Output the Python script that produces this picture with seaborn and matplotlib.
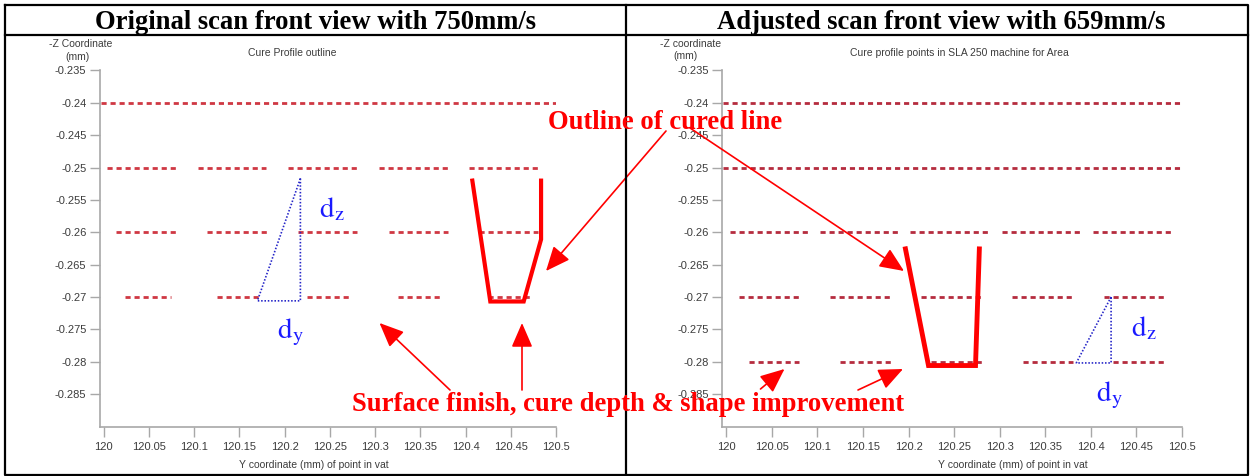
import matplotlib
matplotlib.use("Agg")
import numpy as np
import pandas as pd
import matplotlib.pyplot as plt
import seaborn as sns
from matplotlib.patches import FancyArrowPatch, ArrowStyle

# ---------------- texts ----------------
left_header = "Original scan front view with 750mm/s"
right_header = "Adjusted scan front view with 659mm/s"
left_chart_title = "Cure Profile outline"
right_chart_title = "Cure profile points in SLA 250 machine for Area"
left_ylabel = ["-Z Coordinate", "(mm)"]
right_ylabel = ["-Z coordinate", "(mm)"]
x_label = "Y coordinate (mm) of point in vat"
outline_note = "Outline of cured line"
surface_note = "Surface finish, cure depth & shape improvement"

# ---------------- ticks ----------------
x_ticks = [120.0, 120.05, 120.1, 120.15, 120.2, 120.25, 120.3, 120.35, 120.4, 120.45, 120.5]
x_tick_labels = ["120", "120.05", "120.1", "120.15", "120.2", "120.25",
                 "120.3", "120.35", "120.4", "120.45", "120.5"]
y_ticks = [-0.235, -0.24, -0.245, -0.25, -0.255, -0.26, -0.265, -0.27, -0.275, -0.28, -0.285]
y_tick_labels = ["-0.235", "-0.24", "-0.245", "-0.25", "-0.255", "-0.26",
                 "-0.265", "-0.27", "-0.275", "-0.28", "-0.285"]

# ---------------- cured point runs (z level, start Y, end Y) ----------------
left_z = [-0.24,
          -0.25, -0.25, -0.25, -0.25, -0.25,
          -0.26, -0.26, -0.26, -0.26, -0.26,
          -0.27, -0.27, -0.27, -0.27, -0.27]
left_start = [119.997,
              120.004, 120.104, 120.204, 120.304, 120.404,
              120.014, 120.114, 120.215, 120.315, 120.415,
              120.024, 120.125, 120.225, 120.325, 120.425]
left_end = [120.500,
            120.081, 120.180, 120.281, 120.381, 120.481,
            120.081, 120.181, 120.280, 120.381, 120.480,
            120.074, 120.174, 120.274, 120.374, 120.474]

right_z = [-0.24, -0.25,
           -0.26, -0.26, -0.26, -0.26, -0.26,
           -0.27, -0.27, -0.27, -0.27, -0.27,
           -0.28, -0.28, -0.28, -0.28, -0.28]
right_start = [119.996, 119.996,
               120.004, 120.103, 120.202, 120.302, 120.402,
               120.014, 120.114, 120.214, 120.313, 120.414,
               120.025, 120.125, 120.225, 120.325, 120.424]
right_end = [120.500, 120.500,
             120.090, 120.189, 120.289, 120.389, 120.489,
             120.080, 120.181, 120.280, 120.380, 120.481,
             120.080, 120.181, 120.281, 120.380, 120.480]

# ---------------- cured line outlines ----------------
left_outline_y = [120.4072, 120.4274, 120.4643, 120.4835, 120.4835]
left_outline_z = [-0.2517, -0.2707, -0.2707, -0.2611, -0.2517]
right_outline_y = [120.196, 120.2218, 120.2734, 120.2777]
right_outline_z = [-0.2622, -0.2806, -0.2806, -0.2622]

# ---------------- dz / dy triangles ----------------
left_tri_y = [120.2175, 120.170, 120.2175, 120.2175]
left_tri_z = [-0.2517, -0.2706, -0.2706, -0.2517]
right_tri_y = [120.4222, 120.384, 120.4222, 120.4222]
right_tri_z = [-0.2700, -0.2802, -0.2802, -0.2700]

# ---------------- style ----------------
sns.set_theme(style="ticks")
plt.rcParams["font.family"] = ["Liberation Sans", "DejaVu Sans"]
plt.rcParams["mathtext.fontset"] = "stix"
plt.rcParams["lines.scale_dashes"] = False

W, H = 1252, 476
fig = plt.figure(figsize=(W / 100, H / 100), dpi=100)
fig.patch.set_facecolor("white")

axis_grey = "#a8a8a8"
label_grey = "#3c3c3c"


def runs_frame(z, start, end):
    rows = []
    for i, (zz, s, e) in enumerate(zip(z, start, end)):
        rows.append({"y": s, "z": zz, "run": i})
        rows.append({"y": e, "z": zz, "run": i})
    return pd.DataFrame(rows)


def make_panel(rect, x_lo, z, start, end, color, oy, oz, olw, ty, tz):
    ax = fig.add_axes(rect)
    ax.set_facecolor("white")
    df = runs_frame(z, start, end)
    sns.lineplot(data=df, x="y", y="z", units="run", estimator=None, sort=False,
                 color=color, lw=2.0, ax=ax, legend=False)
    for ln in ax.lines:
        ln.set_linestyle((0, (3.7, 2.8)))
        ln.set_dash_capstyle("butt")
    n0 = len(ax.lines)
    sns.lineplot(x=oy, y=oz, estimator=None, sort=False, color="#ff0000",
                 lw=olw, ax=ax, legend=False)
    for ln in ax.lines[n0:]:
        ln.set_solid_joinstyle("miter")
        ln.set_solid_capstyle("butt")
        ln.set_zorder(4)
    n1 = len(ax.lines)
    sns.lineplot(x=ty, y=tz, estimator=None, sort=False, color="#2626c8",
                 lw=1.2, ax=ax, legend=False)
    for ln in ax.lines[n1:]:
        ln.set_linestyle((0, (1.1, 1.3)))
    ax.set_xlim(x_lo, 120.5)
    ax.set_ylim(-0.2901, -0.235)
    ax.set_xticks(x_ticks)
    ax.set_xticklabels(x_tick_labels)
    ax.set_yticks(y_ticks)
    ax.set_yticklabels(y_tick_labels)
    ax.set_xlabel("")
    ax.set_ylabel("")
    sns.despine(ax=ax)
    for sp in ("left", "bottom"):
        ax.spines[sp].set_color(axis_grey)
        ax.spines[sp].set_linewidth(1.2)
    ax.tick_params(axis="both", direction="out", length=7, width=1.0,
                   color=axis_grey, labelsize=8, labelcolor=label_grey)
    ax.tick_params(axis="y", pad=2.5)
    ax.tick_params(axis="x", pad=4)
    ax.grid(False)
    return ax


ax_l = make_panel([99.6 / W, 1 - 427 / H, (556 - 99.6) / W, (427 - 70.5) / H],
                  119.9956, left_z, left_start, left_end, "#cf3843",
                  left_outline_y, left_outline_z, 3.0, left_tri_y, left_tri_z)
ax_r = make_panel([722 / W, 1 - 427 / H, (1182 - 722) / W, (427 - 70.5) / H],
                  119.9952, right_z, right_start, right_end, "#b52c3e",
                  right_outline_y, right_outline_z, 3.5, right_tri_y, right_tri_z)

# ---------------- overlay in pixel coordinates ----------------
ov = fig.add_axes([0, 0, 1, 1], zorder=10)
ov.set_xlim(0, W)
ov.set_ylim(H, 0)
ov.axis("off")
ov.patch.set_alpha(0)

frame_kw = dict(color="black", lw=1.6, solid_capstyle="projecting")
ov.plot([5, 1248, 1248, 5, 5], [5, 5, 475, 475, 5], **frame_kw)
ov.plot([5, 1248], [35, 35], **frame_kw)
ov.plot([626, 626], [5, 475], **frame_kw)

serif_bold = dict(family=["Liberation Serif", "DejaVu Serif"], weight="bold", size=19.2)
ov.text(315.5, 29, left_header, ha="center", va="baseline", color="black", **serif_bold)
ov.text(941, 29, right_header, ha="center", va="baseline", color="black", **serif_bold)

small = dict(size=7.5, color=label_grey)
ov.text(80.5, 44, left_ylabel[0], ha="center", va="center", **small)
ov.text(77, 57, left_ylabel[1], ha="center", va="center", **small)
ov.text(691, 44, right_ylabel[0], ha="center", va="center", **small)
ov.text(685, 56, right_ylabel[1], ha="center", va="center", **small)
ov.text(292, 53, left_chart_title, ha="center", va="center", **small)
ov.text(959.5, 53, right_chart_title, ha="center", va="center", **small)
ov.text(314, 465, x_label, ha="center", va="center", **small)
ov.text(1013, 465, x_label, ha="center", va="center", **small)

ov.text(665.5, 129, outline_note, ha="center", va="baseline", color="#ff0000", **serif_bold)
ov.text(628.5, 411, surface_note, ha="center", va="baseline", color="#ff0000", **serif_bold)

blue = "#1a1aff"
ov.text(319, 217, r"$\mathrm{d}_\mathrm{z}$", ha="left", va="baseline", color=blue, size=21)
ov.text(277, 338, r"$\mathrm{d}_\mathrm{y}$", ha="left", va="baseline", color=blue, size=21)
ov.text(1131, 336, r"$\mathrm{d}_\mathrm{z}$", ha="left", va="baseline", color=blue, size=21)
ov.text(1096, 401, r"$\mathrm{d}_\mathrm{y}$", ha="left", va="baseline", color=blue, size=21)

arrows = [((666, 131), (546, 271)),
          ((690, 128), (904, 271)),
          ((450, 390), (379.5, 323)),
          ((522, 390), (522, 323)),
          ((760.5, 389), (784.5, 369)),
          ((858, 390), (903, 369))]
style = ArrowStyle("-|>", head_length=15, head_width=6.5)
for a, b in arrows:
    ov.add_patch(FancyArrowPatch(a, b, arrowstyle=style, mutation_scale=1,
                                 color="#ff0000", lw=1.2, shrinkA=0, shrinkB=0))

fig.savefig("out.png", dpi=100, facecolor="white")
